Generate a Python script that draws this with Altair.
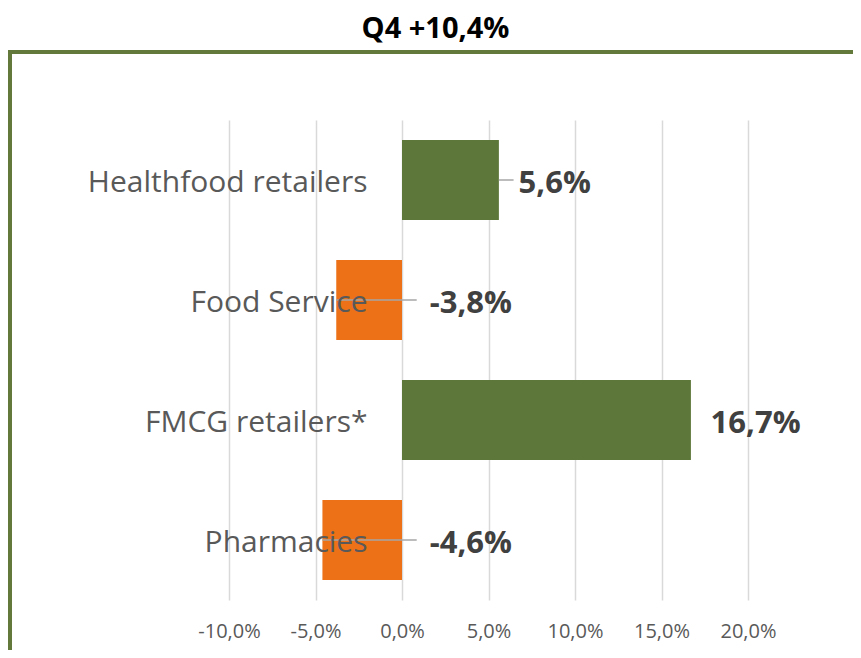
import altair as alt
import pandas as pd
import numpy as np

# ---- data ----
categories = ["Healthfood retailers", "Food Service", "FMCG retailers*", "Pharmacies"]
values = [5.6, -3.8, 16.7, -4.6]          # growth in %
show_leader = [True, True, False, True]
title_text = "Q4 +10,4%"
x_ticks = [-10, -5, 0, 5, 10, 15, 20]

GREEN = "#5D7639"
ORANGE = "#ED7117"
FRAME = "#62793B"
FONT = "Open Sans"

df = pd.DataFrame({"cat": categories, "val": values, "leader": show_leader})
df["anchor"] = np.maximum(df["val"], 0)
df["line_end"] = df["anchor"] + 0.85
df["label"] = [f"{v:.1f}%".replace(".", ",") for v in values]
df["pos"] = df["val"] >= 0

W, H = 519, 480

xscale = alt.Scale(domain=[-10, 20], nice=False, zero=False)
yscale = alt.Scale(domain=categories, paddingInner=1/3, paddingOuter=1/6)

base = alt.Chart(df)

bars = base.mark_bar().encode(
    x=alt.X("val:Q", scale=xscale, title=None,
            axis=alt.Axis(values=x_ticks, grid=True, gridColor="#D9D9D9", gridWidth=1.5,
                          domain=False, ticks=False, labelFont=FONT, labelFontSize=20,
                          labelColor="#595959", labelPadding=21, labelOverlap=False,
                          labelFlush=False,
                          labelExpr="replace(replace(format(datum.value, '.1f'), '.', ','), '\u2212', '-') + '%'")),
    y=alt.Y("cat:N", scale=yscale, sort=categories, title=None,
            axis=alt.Axis(domain=False, ticks=False, grid=False, labelFont=FONT, labelFontSize=30,
                          labelColor="#595959", labelAlign="right", labelPadding=-138,
                          labelOffset=2.5, labelLimit=500, zindex=2)),
    color=alt.Color("pos:N", scale=alt.Scale(domain=[True, False], range=[GREEN, ORANGE]), legend=None),
)

leaders = base.transform_filter("datum.leader").mark_rule(color="#A6A6A6", strokeWidth=1.5).encode(
    x=alt.X("val:Q", scale=xscale),
    x2="line_end:Q",
    y=alt.Y("cat:N", scale=yscale, sort=categories),
)

label_style = dict(align="left", baseline="middle", dy=4, font=FONT, fontSize=31,
                   fontWeight="bold", color="#404040")
label_enc = dict(
    x=alt.X("line_end:Q", scale=xscale),
    y=alt.Y("cat:N", scale=yscale, sort=categories),
    text="label:N",
)
labels_pos = base.transform_filter("datum.val >= 0").mark_text(dx=5, **label_style).encode(**label_enc)
labels_neg = base.transform_filter("datum.val < 0").mark_text(dx=13, **label_style).encode(**label_enc)

one = alt.Chart(pd.DataFrame({"a": [0]}))
frame_left = one.mark_rule(color=FRAME, strokeWidth=4).encode(
    x=alt.value(-219), y=alt.value(-70), y2=alt.value(600))
frame_top = one.mark_rule(color=FRAME, strokeWidth=4).encode(
    x=alt.value(-221), x2=alt.value(700), y=alt.value(-68))

chart = alt.layer(frame_left, frame_top, bars, leaders, labels_pos, labels_neg).properties(
    width=W, height=H,
    autosize=alt.AutoSizeParams(type="none"),
    padding={"left": 221, "top": 112, "right": 105, "bottom": 50},
    title=alt.TitleParams(title_text, font=FONT, fontSize=29, fontWeight="bold", color="#000000",
                          anchor="middle", frame="group", baseline="alphabetic", offset=-19, dx=-53),
).configure_view(stroke=None)

chart.save("out.html", embed_options={"renderer": "svg", "actions": False})
